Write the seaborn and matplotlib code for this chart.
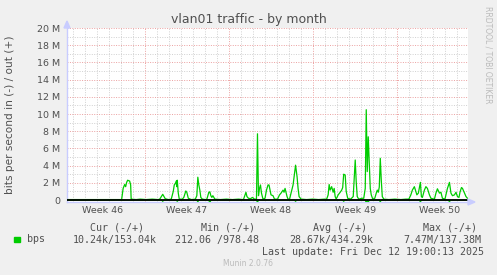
import matplotlib
matplotlib.use("Agg")
import matplotlib.pyplot as plt
import seaborn as sns
import pandas as pd
from matplotlib.patches import Polygon, Rectangle

# ---------------- data ----------------
title = "vlan01 traffic - by month"
ylabel = "bits per second in (-) / out (+)"
watermark = "RRDTOOL / TOBI OETIKER"
footer = "Munin 2.0.76"
start_time = "2025-11-10 13:00"
span_hours = 800

# out (+) traffic in Mbit/s, (hours since start, value), split by week
week46_out = [(0, 0.05), (109, 0.05), (112, 1.35), (115, 1.8), (117, 1.55), (119, 2.05),
              (121, 2.3), (125, 2.2), (127, 1.75), (128, 0.1), (138, 0.05), (146, 0.1)]
week47_out = [(158, 0.05), (170, 0.1), (182, 0.05), (185, 0.1), (191, 0.66), (196, 0.15),
              (202, 0.05), (208, 0.1), (212, 1.0), (214, 1.75), (216, 1.9), (218, 2.2),
              (219, 1.55), (220, 2.3), (222, 0.8), (224, 0.1), (230, 0.1), (233, 0.3),
              (237, 1.05), (239, 0.9), (242, 0.2), (248, 0.05), (256, 0.1), (259, 0.5),
              (261, 2.65), (263, 1.75), (265, 1.15), (267, 0.3), (270, 0.1), (276, 0.05),
              (279, 0.1), (283, 0.9), (285, 0.95), (287, 0.5), (289, 0.3), (291, 0.5),
              (295, 0.1), (306, 0.05), (318, 0.1)]
week48_out = [(330, 0.05), (342, 0.1), (352, 0.05), (357, 0.9), (359, 0.4), (362, 0.2),
              (366, 0.15), (370, 0.3), (374, 0.1), (378, 0.1), (380, 7.7), (382, 0.5),
              (384, 1.35), (386, 1.75), (388, 0.8), (391, 0.1), (395, 0.2), (398, 1.15),
              (401, 1.75), (403, 1.75), (407, 0.6), (411, 0.5), (414, 0.1), (420, 0.1),
              (424, 0.6), (427, 0.8), (431, 1.15), (433, 0.9), (435, 1.35), (439, 0.4),
              (441, 0.1), (444, 0.1), (447, 0.8), (451, 1.75), (453, 2.7), (456, 4.05),
              (459, 2.7), (461, 1.35), (463, 0.4), (467, 0.1), (478, 0.05), (490, 0.1)]
week49_out = [(502, 0.05), (514, 0.1), (518, 0.1), (521, 0.6), (523, 1.8), (525, 1.15),
              (528, 1.55), (531, 0.9), (533, 1.35), (535, 0.4), (537, 0.1), (541, 0.6),
              (545, 0.9), (548, 1.15), (550, 1.45), (552, 3.0), (555, 2.9), (557, 1.0),
              (560, 0.2), (566, 0.1), (571, 0.4), (575, 4.65), (577, 2.1), (579, 0.4),
              (582, 0.1), (588, 0.2), (592, 0.2), (595, 1.35), (597, 10.5), (599, 3.3),
              (601, 7.35), (603, 4.25), (605, 1.35), (607, 0.6), (610, 0.1), (614, 0.2),
              (617, 0.8), (619, 1.15), (621, 0.9), (623, 1.5), (625, 4.85), (627, 2.3),
              (629, 0.4), (632, 0.1), (642, 0.05), (654, 0.1)]
week50_out = [(666, 0.05), (676, 0.1), (682, 0.1), (686, 0.6), (689, 1.15), (693, 1.55),
              (696, 1.0), (698, 0.6), (701, 0.8), (705, 2.05), (707, 0.4), (709, 0.3),
              (713, 1.15), (716, 1.55), (719, 1.35), (723, 0.6), (726, 0.2), (733, 0.1),
              (736, 0.8), (739, 1.3), (743, 0.8), (746, 0.9), (749, 0.2), (754, 0.1),
              (759, 1.35), (763, 2.05), (766, 0.8), (769, 0.5), (773, 0.6), (776, 0.9),
              (779, 0.4), (782, 0.3), (784, 0.9), (787, 1.45), (789, 1.35), (793, 0.8),
              (796, 0.4), (799, 0.2)]

# in (-) traffic in Mbit/s (drawn negative)
in_series = [(0, -0.02), (189, -0.02), (191, -0.15), (193, -0.02), (218, -0.02), (220, -0.15),
             (222, -0.02), (259, -0.02), (261, -0.2), (263, -0.02), (283, -0.02), (285, -0.35),
             (287, -0.02), (378, -0.02), (380, -0.25), (382, -0.02), (454, -0.02), (456, -0.15),
             (458, -0.02), (550, -0.02), (552, -0.15), (554, -0.02), (595, -0.02), (597, -0.3),
             (599, -0.02), (601, -0.25), (603, -0.02), (623, -0.02), (625, -0.2), (627, -0.02),
             (703, -0.02), (705, -0.2), (707, -0.02), (761, -0.02), (763, -0.2), (765, -0.02),
             (799, -0.02)]

y_ticks = [0, 2, 4, 6, 8, 10, 12, 14, 16, 18, 20]
y_tick_labels = ["0", "2 M", "4 M", "6 M", "8 M", "10 M", "12 M", "14 M", "16 M", "18 M", "20 M"]
week_labels = ["Week 46", "Week 47", "Week 48", "Week 49", "Week 50"]
week_mids = ["2025-11-13 12:00", "2025-11-20 12:00", "2025-11-27 12:00",
             "2025-12-04 12:00", "2025-12-11 12:00"]

legend_name = "bps"
legend_headers = ["Cur (-/+)", "Min (-/+)", "Avg (-/+)", "Max (-/+)"]
legend_values = ["10.24k/153.04k", "212.06 /978.48", "28.67k/434.29k", "7.47M/137.38M"]
last_update = "Last update: Fri Dec 12 19:00:13 2025"

GREEN = "#00CC00"
TEXT = "#505050"

# ---------------- figure ----------------
sns.set_style("white")
plt.rcParams["font.family"] = ["DejaVu Sans"]

W, H = 497, 275
fig = plt.figure(figsize=(W / 100, H / 100), dpi=100, facecolor="#F0F0F0")


def fx(x):
    return x / W


def fy(y):
    return 1 - y / H


ax_left, ax_right, ax_top, ax_bottom = 67, 468, 28, 202
ax = fig.add_axes([fx(ax_left), fy(ax_bottom), (ax_right - ax_left) / W, (ax_bottom - ax_top) / H])
ax.set_facecolor("white")

t0 = pd.Timestamp(start_time)
t_end = t0 + pd.Timedelta(hours=span_hours)


def to_df(points):
    return pd.DataFrame({"time": [t0 + pd.Timedelta(hours=h) for h, _ in points],
                         "mbps": [v for _, v in points]})


out_df = to_df(week46_out + week47_out + week48_out + week49_out + week50_out)
in_df = to_df(in_series)

# grid
days = pd.date_range(t0.ceil("D"), t_end, freq="D")
for d in days:
    if d.weekday() != 0:
        ax.axvline(d, color="#D0D0D0", lw=0.7, ls=(0, (1, 1.5)), zorder=1)
for m in range(1, 21, 2):
    ax.axhline(m, color="#D0D0D0", lw=0.7, ls=(0, (1, 1.5)), zorder=1)
for m in range(2, 21, 2):
    ax.axhline(m, color="#EBA0A0", lw=0.7, ls=(0, (1, 1.5)), zorder=2)
for d in days:
    if d.weekday() == 0:
        ax.axvline(d, color="#EBA0A0", lw=0.7, ls=(0, (1, 1.5)), zorder=2)

sns.lineplot(data=out_df, x="time", y="mbps", ax=ax, color=GREEN, lw=0.9,
             estimator=None, zorder=3)
sns.lineplot(data=in_df, x="time", y="mbps", ax=ax, color=GREEN, lw=0.9,
             estimator=None, zorder=3)
ax.axhline(0, color="black", lw=1.3, zorder=4)

ax.set_xlim(t0, t_end)
ax.set_ylim(-2 / 8.6, 20)
ax.set_xlabel("")
ax.set_ylabel("")

ax.set_yticks(y_ticks)
ax.set_yticklabels(y_tick_labels)
ax.set_xticks([pd.Timestamp(w) for w in week_mids])
ax.set_xticklabels(week_labels)
ax.tick_params(axis="y", length=0, pad=5, labelsize=6.8, labelcolor=TEXT)
ax.tick_params(axis="x", length=0, pad=3.2, labelsize=6.8, labelcolor=TEXT)
ax.xaxis.set_minor_locator(matplotlib.ticker.NullLocator())

for s in ["top", "right"]:
    ax.spines[s].set_visible(False)
for s in ["left", "bottom"]:
    ax.spines[s].set_color("#C8CCFF")
    ax.spines[s].set_linewidth(1.0)

# axis arrows
fig.patches.append(Polygon([(fx(67), fy(21)), (fx(64), fy(28)), (fx(70), fy(28))],
                           closed=True, transform=fig.transFigure, color="#C8CCFF"))
fig.patches.append(Polygon([(fx(475), fy(202)), (fx(468), fy(199)), (fx(468), fy(205))],
                           closed=True, transform=fig.transFigure, color="#C8CCFF"))

# texts
fig.text(fx(248.5), fy(19.5), title, ha="center", va="center", fontsize=9, color=TEXT)
fig.text(fx(10), fy(115), ylabel, rotation=90, ha="center", va="center",
         fontsize=7.6, color=TEXT)
fig.text(fx(488), fy(6), watermark, rotation=270, ha="center", va="top",
         fontsize=5.5, color="#BBBBBB")

mono = "DejaVu Sans Mono"
header_x = [90, 200.7, 312.7, 423]
value_x = [72.7, 175, 289.3, 403.3]
for hx, htxt in zip(header_x, legend_headers):
    fig.text(fx(hx), fy(228), htxt, ha="left", va="center", fontsize=7.2,
             family=mono, color=TEXT)
fig.patches.append(Rectangle((fx(14), fy(242)), 5.5 / W, 5.5 / H,
                             transform=fig.transFigure, color=GREEN))
fig.text(fx(27), fy(239.5), legend_name, ha="left", va="center", fontsize=7.2,
         family=mono, color=TEXT)
for vx, vtxt in zip(value_x, legend_values):
    fig.text(fx(vx), fy(239.5), vtxt, ha="left", va="center", fontsize=7.2,
             family=mono, color=TEXT)
fig.text(fx(483.5), fy(252), last_update, ha="right", va="center", fontsize=7.2,
         family=mono, color=TEXT)
fig.text(fx(248), fy(264), footer, ha="center", va="center", fontsize=5.5,
         color="#BBBBBB")

fig.savefig("out.png", dpi=100, facecolor=fig.get_facecolor())
